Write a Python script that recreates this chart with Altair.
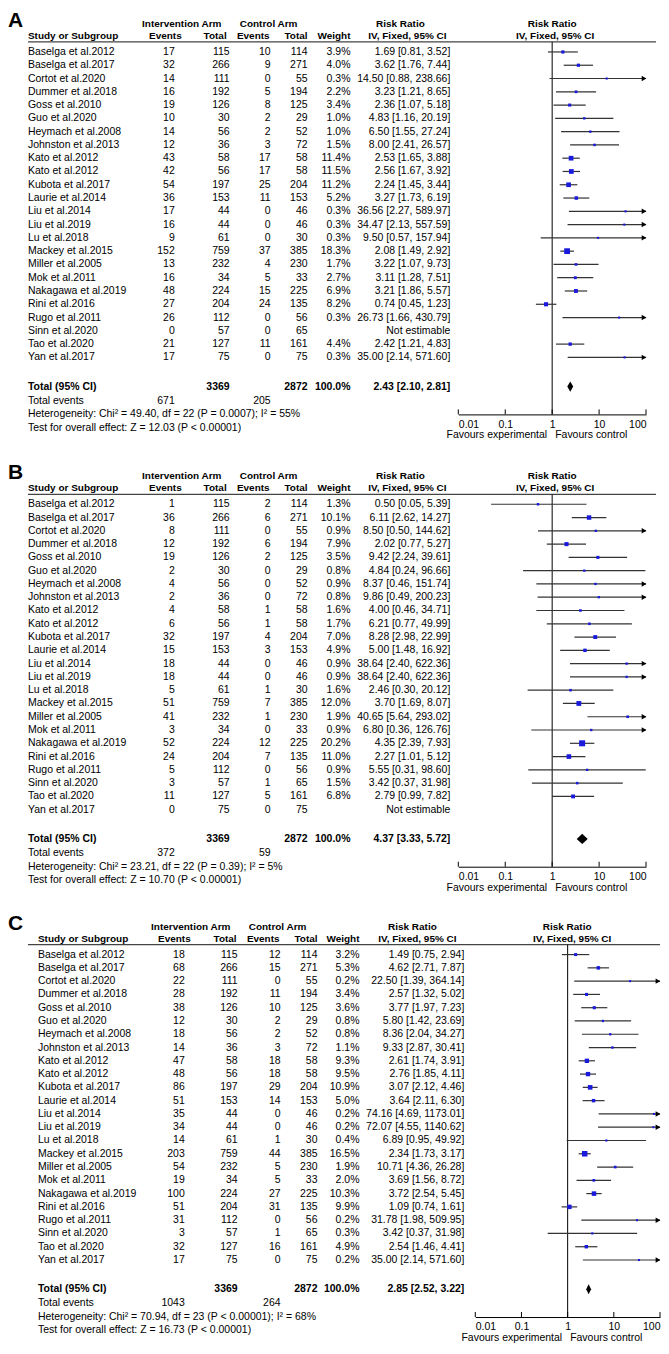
import altair as alt
import pandas as pd

# ---------------- data ----------------
studies = ["Baselga et al.2012", "Baselga et al.2017", "Cortot et al.2020", "Dummer et al.2018",
           "Goss et al.2010", "Guo et al.2020", "Heymach et al.2008", "Johnston et al.2013",
           "Kato et al.2012", "Kato et al.2012", "Kubota et al.2017", "Laurie et al.2014",
           "Liu et al.2014", "Liu et al.2019", "Lu et al.2018", "Mackey et al.2015",
           "Miller et al.2005", "Mok et al.2011", "Nakagawa et al.2019", "Rini et al.2016",
           "Rugo et al.2011", "Sinn et al.2020", "Tao et al.2020", "Yan et al.2017"]
int_total = [115, 266, 111, 192, 126, 30, 56, 36, 58, 56, 197, 153, 44, 44, 61, 759, 232, 34, 224, 204, 112, 57, 127, 75]
ctl_total = [114, 271, 55, 194, 125, 29, 52, 72, 58, 58, 204, 153, 46, 46, 30, 385, 230, 33, 225, 135, 56, 65, 161, 75]

# Panel A
a_int_events = [17, 32, 14, 16, 19, 10, 14, 12, 43, 42, 54, 36, 17, 16, 9, 152, 13, 16, 48, 27, 26, 0, 21, 17]
a_ctl_events = [10, 9, 0, 5, 8, 2, 2, 3, 17, 17, 25, 11, 0, 0, 0, 37, 4, 5, 15, 24, 0, 0, 11, 0]
a_weight = [3.9, 4.0, 0.3, 2.2, 3.4, 1.0, 1.0, 1.5, 11.4, 11.5, 11.2, 5.2, 0.3, 0.3, 0.3, 18.3, 1.7, 2.7, 6.9, 8.2, 0.3, None, 4.4, 0.3]
a_rr = [1.69, 3.62, 14.50, 3.23, 2.36, 4.83, 6.50, 8.00, 2.53, 2.56, 2.24, 3.27, 36.56, 34.47, 9.50, 2.08, 3.22, 3.11, 3.21, 0.74, 26.73, None, 2.42, 35.00]
a_lo = [0.81, 1.76, 0.88, 1.21, 1.07, 1.16, 1.55, 2.41, 1.65, 1.67, 1.45, 1.73, 2.27, 2.13, 0.57, 1.49, 1.07, 1.28, 1.86, 0.45, 1.66, None, 1.21, 2.14]
a_hi = [3.52, 7.44, 238.66, 8.65, 5.18, 20.19, 27.24, 26.57, 3.88, 3.92, 3.44, 6.19, 589.97, 557.59, 157.94, 2.92, 9.73, 7.51, 5.57, 1.23, 430.79, None, 4.83, 571.60]
a_totals = [3369, 2872, "100.0%", 2.43, 2.10, 2.81, 671, 205]
a_het = "Heterogeneity: Chi² = 49.40, df = 22 (P = 0.0007); I² = 55%"
a_test = "Test for overall effect: Z = 12.03 (P < 0.00001)"

# Panel B
b_int_events = [1, 36, 8, 12, 19, 2, 4, 2, 4, 6, 32, 15, 18, 18, 5, 51, 41, 3, 52, 24, 5, 3, 11, 0]
b_ctl_events = [2, 6, 0, 6, 2, 0, 0, 0, 1, 1, 4, 3, 0, 0, 1, 7, 1, 0, 12, 7, 0, 1, 5, 0]
b_weight = [1.3, 10.1, 0.9, 7.9, 3.5, 0.8, 0.9, 0.8, 1.6, 1.7, 7.0, 4.9, 0.9, 0.9, 1.6, 12.0, 1.9, 0.9, 20.2, 11.0, 0.9, 1.5, 6.8, None]
b_rr = [0.50, 6.11, 8.50, 2.02, 9.42, 4.84, 8.37, 9.86, 4.00, 6.21, 8.28, 5.00, 38.64, 38.64, 2.46, 3.70, 40.65, 6.80, 4.35, 2.27, 5.55, 3.42, 2.79, None]
b_lo = [0.05, 2.62, 0.50, 0.77, 2.24, 0.24, 0.46, 0.49, 0.46, 0.77, 2.98, 1.48, 2.40, 2.40, 0.30, 1.69, 5.64, 0.36, 2.39, 1.01, 0.31, 0.37, 0.99, None]
b_hi = [5.39, 14.27, 144.62, 5.27, 39.61, 96.66, 151.74, 200.23, 34.71, 49.99, 22.99, 16.92, 622.36, 622.36, 20.12, 8.07, 293.02, 126.76, 7.93, 5.12, 98.60, 31.98, 7.82, None]
b_totals = [3369, 2872, "100.0%", 4.37, 3.33, 5.72, 372, 59]
b_het = "Heterogeneity: Chi² = 23.21, df = 22 (P = 0.39); I² = 5%"
b_test = "Test for overall effect: Z = 10.70 (P < 0.00001)"

# Panel C
c_int_events = [18, 68, 22, 28, 38, 12, 18, 14, 47, 48, 86, 51, 35, 34, 14, 203, 54, 19, 100, 51, 31, 3, 32, 17]
c_ctl_events = [12, 15, 0, 11, 10, 2, 2, 3, 18, 18, 29, 14, 0, 0, 1, 44, 5, 5, 27, 31, 0, 1, 16, 0]
c_weight = [3.2, 5.3, 0.2, 3.4, 3.6, 0.8, 0.8, 1.1, 9.3, 9.5, 10.9, 5.0, 0.2, 0.2, 0.4, 16.5, 1.9, 2.0, 10.3, 9.9, 0.2, 0.3, 4.9, 0.2]
c_rr = [1.49, 4.62, 22.50, 2.57, 3.77, 5.80, 8.36, 9.33, 2.61, 2.76, 3.07, 3.64, 74.16, 72.07, 6.89, 2.34, 10.71, 3.69, 3.72, 1.09, 31.78, 3.42, 2.54, 35.00]
c_lo = [0.75, 2.71, 1.39, 1.32, 1.97, 1.42, 2.04, 2.87, 1.74, 1.85, 2.12, 2.11, 4.69, 4.55, 0.95, 1.73, 4.36, 1.56, 2.54, 0.74, 1.98, 0.37, 1.46, 2.14]
c_hi = [2.94, 7.87, 364.14, 5.02, 7.23, 23.69, 34.27, 30.41, 3.91, 4.11, 4.46, 6.30, 1173.01, 1140.62, 49.92, 3.17, 26.28, 8.72, 5.45, 1.61, 509.95, 31.98, 4.41, 571.60]
c_totals = [3369, 2872, "100.0%", 2.85, 2.52, 3.22, 1043, 264]
c_het = "Heterogeneity: Chi² = 70.94, df = 23 (P < 0.00001); I² = 68%"
c_test = "Test for overall effect: Z = 16.73 (P < 0.00001)"

axis_ticks = [0.01, 0.1, 1, 10, 100]

# ---------------- layout / style ----------------
FONT = "Liberation Sans, Arial, sans-serif"
FS = 10.5
HFS = 10
W = 653
ROW1_Y = 43
ROW_PX = 13.3
R_TOTAL, R_EVENTS, R_HET, R_TEST = 26.2, 27.25, 28.3, 29.3
H1_Y, H2_Y, LINE_Y = 15, 27, 33
AXIS_Y, FAV_Y = 406, 427
BLUE = "#1a1adc"
LINE = "#333333"
XMIN, XMAX = axis_ticks[0], axis_ticks[-1]

LAY_AB = dict(name=20, ev1=167, tot1=222, ev2=263, tot2=300, wt=343, ci=443,
              h_int=174, h_ctl=261, h_rr=393, h_frr=545,
              h_ev1=174, h_tot1=219, h_ev2=262, h_tot2=300, h_wt=343, h_ci=400, h_fci=548,
              f0=451, f1=639, line0=20, line1=649, fav_exp=540, fav_ctl=548)
LAY_C = dict(name=30, ev1=177, tot1=230, ev2=273, tot2=310, wt=352, ci=457,
             h_int=183, h_ctl=270, h_rr=405, h_frr=560,
             h_ev1=183, h_tot1=229, h_ev2=272, h_tot2=310, h_wt=352, h_ci=410, h_fci=565,
             f0=468, f1=653, line0=20, line1=653, fav_exp=555, fav_ctl=563)

DUMMY = pd.DataFrame({"_": [0]})


def label(text, x, y, align="left", bold=False, size=FS, font=FONT, baseline="middle"):
    return alt.Chart(DUMMY).mark_text(
        align=align, baseline=baseline, font=font, fontSize=size,
        fontWeight="bold" if bold else "normal", color="black"
    ).encode(x=alt.value(x), y=alt.value(y), text=alt.value(text))


def panel(letter, ev1, ev2, wt, rr, lo, hi, totals, het, test, H, L):
    ys = alt.Scale(domain=[1 - ROW1_Y / ROW_PX, 1 + (H - ROW1_Y) / ROW_PX],
                   reverse=True, nice=False, zero=False)
    xs = alt.Scale(type="log", domain=[XMIN, XMAX], range=[L["f0"], L["f1"]], nice=False)
    xax = alt.Axis(values=axis_ticks, labelExpr="'' + datum.value", ticks=False, grid=False,
                   domainColor="black", domainWidth=1, labelFont=FONT, labelFontSize=FS,
                   labelColor="black", labelPadding=5, labelFlush=True,
                   offset=AXIS_Y - H, title=None)

    n_int, n_ctl, w_tot, rr_t, lo_t, hi_t, ev_int, ev_ctl = totals

    recs = []
    for i, s in enumerate(studies):
        recs.append({"r": i + 1, "name": s, "ev1": str(ev1[i]), "tot1": str(int_total[i]),
                     "ev2": str(ev2[i]), "tot2": str(ctl_total[i]),
                     "wt": "" if wt[i] is None else f"{wt[i]:.1f}%",
                     "ci": "Not estimable" if rr[i] is None else f"{rr[i]:.2f} [{lo[i]:.2f}, {hi[i]:.2f}]"})
    blank = {"ev1": "", "tot1": "", "ev2": "", "tot2": "", "wt": "", "ci": ""}
    recs.append({**blank, "r": R_EVENTS, "name": "Total events", "ev1": str(ev_int), "ev2": str(ev_ctl)})
    recs.append({**blank, "r": R_HET, "name": het})
    recs.append({**blank, "r": R_TEST, "name": test})
    tdf = pd.DataFrame(recs)
    totdf = pd.DataFrame([{"r": R_TOTAL, "name": "Total (95% CI)", "tot1": str(n_int),
                           "tot2": str(n_ctl), "wt": w_tot,
                           "ci": f"{rr_t:.2f} [{lo_t:.2f}, {hi_t:.2f}]"}])

    layers = []
    cols = [("name", "left"), ("ev1", "right"), ("tot1", "right"), ("ev2", "right"),
            ("tot2", "right"), ("wt", "right"), ("ci", "right")]
    for c, al in cols:
        layers.append(alt.Chart(tdf).mark_text(align=al, baseline="middle", font=FONT,
                                               fontSize=FS, color="black").encode(
            x=alt.value(L[c]), y=alt.Y("r:Q", scale=ys, axis=None), text=f"{c}:N"))
    for c, al in [("name", "left"), ("tot1", "right"), ("tot2", "right"), ("wt", "right"), ("ci", "right")]:
        layers.append(alt.Chart(totdf).mark_text(align=al, baseline="middle", font=FONT,
                                                 fontSize=FS, fontWeight="bold", color="black").encode(
            x=alt.value(L[c]), y=alt.Y("r:Q", scale=ys, axis=None), text=f"{c}:N"))

    # headers
    layers += [
        label(letter, 0, 18, bold=True, size=21, baseline="alphabetic"),
        label("Intervention Arm", L["h_int"], H1_Y, "center", True, HFS),
        label("Control Arm", L["h_ctl"], H1_Y, "center", True, HFS),
        label("Risk Ratio", L["h_rr"], H1_Y, "center", True, HFS),
        label("Risk Ratio", L["h_frr"], H1_Y, "center", True, HFS),
        label("Study or Subgroup", L["name"], H2_Y, "left", True, HFS),
        label("Events", L["h_ev1"], H2_Y, "right", True, HFS),
        label("Total", L["h_tot1"], H2_Y, "right", True, HFS),
        label("Events", L["h_ev2"], H2_Y, "right", True, HFS),
        label("Total", L["h_tot2"], H2_Y, "right", True, HFS),
        label("Weight", L["h_wt"], H2_Y, "right", True, HFS),
        label("IV, Fixed, 95% CI", L["h_ci"], H2_Y, "center", True, HFS),
        label("IV, Fixed, 95% CI", L["h_fci"], H2_Y, "center", True, HFS),
        label("Favours experimental", L["fav_exp"], FAV_Y, "right"),
        label("Favours control", L["fav_ctl"], FAV_Y, "left"),
    ]
    layers.append(alt.Chart(DUMMY).mark_rule(color="#444444", strokeWidth=1.3).encode(
        x=alt.value(L["line0"]), x2=alt.value(L["line1"]), y=alt.value(LINE_Y)))

    # forest
    fdf = pd.DataFrame([{"r": i + 1, "rr": rr[i], "lo": max(lo[i], XMIN), "hi": min(hi[i], XMAX),
                         "area": 4 + 1.6 * wt[i]} for i in range(len(studies)) if rr[i] is not None])
    adf = pd.DataFrame([{"r": i + 1, "xa": XMAX} for i in range(len(studies))
                        if rr[i] is not None and hi[i] > XMAX])
    ddf = pd.DataFrame({"dx": [lo_t, rr_t, hi_t],
                        "dy": [R_TOTAL, R_TOTAL - 0.38, R_TOTAL],
                        "dy2": [R_TOTAL, R_TOTAL + 0.38, R_TOTAL]})
    tickdf = pd.DataFrame({"t": axis_ticks})
    onedf = pd.DataFrame({"one": [1]})

    layers.append(alt.Chart(onedf).mark_rule(color="black", strokeWidth=1).encode(
        x=alt.X("one:Q", scale=xs, axis=xax), y=alt.value(LINE_Y), y2=alt.value(AXIS_Y)))
    layers.append(alt.Chart(tickdf).mark_rule(color="black", strokeWidth=1).encode(
        x=alt.X("t:Q", scale=xs, axis=xax), y=alt.value(AXIS_Y - 5), y2=alt.value(AXIS_Y)))
    layers.append(alt.Chart(fdf).mark_rule(color=LINE, strokeWidth=1.2).encode(
        x=alt.X("lo:Q", scale=xs, axis=xax), x2="hi:Q", y=alt.Y("r:Q", scale=ys, axis=None)))
    layers.append(alt.Chart(fdf).mark_point(shape="square", filled=True, color=BLUE, opacity=1).encode(
        x=alt.X("rr:Q", scale=xs, axis=xax), y=alt.Y("r:Q", scale=ys, axis=None),
        size=alt.Size("area:Q", scale=None, legend=None)))
    if len(adf):
        layers.append(alt.Chart(adf).mark_point(shape="triangle-right", filled=True, color="black",
                                                opacity=1, size=30, xOffset=-2).encode(
            x=alt.X("xa:Q", scale=xs, axis=xax), y=alt.Y("r:Q", scale=ys, axis=None)))
    layers.append(alt.Chart(ddf).mark_area(color="black", orient="vertical").encode(
        x=alt.X("dx:Q", scale=xs, axis=xax), y=alt.Y("dy:Q", scale=ys, axis=None), y2="dy2:Q"))

    return alt.layer(*layers).properties(width=W, height=H)


pA = panel("A", a_int_events, a_ctl_events, a_weight, a_rr, a_lo, a_hi, a_totals, a_het, a_test, 453, LAY_AB)
pB = panel("B", b_int_events, b_ctl_events, b_weight, b_rr, b_lo, b_hi, b_totals, b_het, b_test, 451, LAY_AB)
pC = panel("C", c_int_events, c_ctl_events, c_weight, c_rr, c_lo, c_hi, c_totals, c_het, c_test, 434, LAY_C)

chart = alt.vconcat(pA, pB, pC, spacing=0).resolve_scale(
    x="independent", y="independent").properties(padding=0).configure_view(stroke=None)

chart.save("out.html", embed_options={"renderer": "svg", "actions": False})
